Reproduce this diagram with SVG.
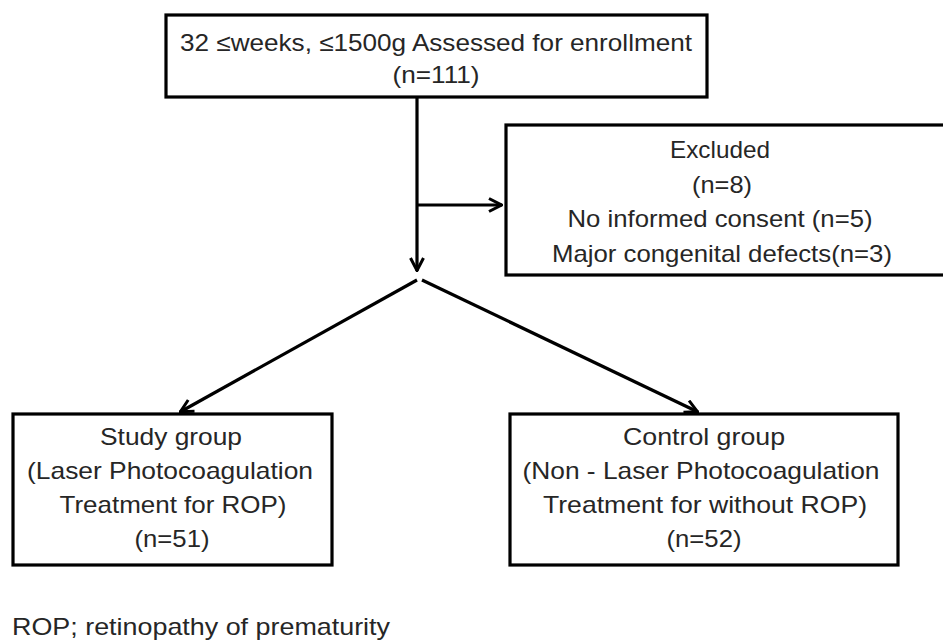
<svg xmlns="http://www.w3.org/2000/svg" width="943" height="641" viewBox="0 0 943 641">
<style>
  .box { fill: #ffffff; stroke: #000000; stroke-width: 3.2; }
  .t { font-family: "Liberation Sans", Arial, sans-serif; font-size: 24px; fill: #262626; text-anchor: middle; }
  .c { stroke: #000000; stroke-width: 3.2; fill: none; }
</style>
<defs>
  <marker id="arr" viewBox="0 0 16 16" refX="15" refY="8" markerWidth="16" markerHeight="16" markerUnits="userSpaceOnUse" orient="auto">
    <path d="M2,1.5 L14.5,8 L2,14.5" fill="none" stroke="#000" stroke-width="3" stroke-linejoin="miter"/>
  </marker>
</defs>
<rect width="943" height="641" fill="#ffffff"/>
<g id="enroll">
  <rect class="box" x="166" y="15" width="541" height="82"/>
  <text class="t" x="436" y="51" textLength="512" lengthAdjust="spacingAndGlyphs">32 ≤weeks, ≤1500g Assessed for enrollment</text>
  <text class="t" x="436" y="83" textLength="87" lengthAdjust="spacingAndGlyphs">(n=111)</text>
</g>
<g id="excluded">
  <rect class="box" x="506" y="125" width="450" height="150"/>
  <text class="t" x="720" y="158" textLength="100" lengthAdjust="spacingAndGlyphs">Excluded</text>
  <text class="t" x="722" y="193" textLength="60" lengthAdjust="spacingAndGlyphs">(n=8)</text>
  <text class="t" x="720" y="227" textLength="305" lengthAdjust="spacingAndGlyphs">No informed consent (n=5)</text>
  <text class="t" x="722" y="262" textLength="340" lengthAdjust="spacingAndGlyphs">Major congenital defects(n=3)</text>
</g>
<g id="study">
  <rect class="box" x="13" y="414" width="319" height="151"/>
  <text class="t" x="171" y="445" textLength="142" lengthAdjust="spacingAndGlyphs">Study group</text>
  <text class="t" x="170" y="479" textLength="286" lengthAdjust="spacingAndGlyphs">(Laser Photocoagulation</text>
  <text class="t" x="173" y="513" textLength="227" lengthAdjust="spacingAndGlyphs">Treatment for ROP)</text>
  <text class="t" x="172" y="547" textLength="75" lengthAdjust="spacingAndGlyphs">(n=51)</text>
</g>
<g id="control">
  <rect class="box" x="510" y="414" width="388" height="151"/>
  <text class="t" x="704" y="445" textLength="162" lengthAdjust="spacingAndGlyphs">Control group</text>
  <text class="t" x="701" y="479" textLength="357" lengthAdjust="spacingAndGlyphs">(Non - Laser Photocoagulation</text>
  <text class="t" x="705" y="513" textLength="324" lengthAdjust="spacingAndGlyphs">Treatment for without ROP)</text>
  <text class="t" x="704" y="547" textLength="75" lengthAdjust="spacingAndGlyphs">(n=52)</text>
</g>
<g id="connectors">
  <line class="c" x1="417" y1="97" x2="417" y2="271" marker-end="url(#arr)"/>
  <line class="c" x1="417" y1="205" x2="502" y2="205" marker-end="url(#arr)"/>
  <line class="c" x1="417" y1="280" x2="180" y2="412" marker-end="url(#arr)"/>
  <line class="c" x1="422" y1="280" x2="698" y2="412" marker-end="url(#arr)"/>
</g>
<text class="t" x="12" y="635" style="text-anchor:start" textLength="378" lengthAdjust="spacingAndGlyphs">ROP; retinopathy of prematurity</text>
</svg>
